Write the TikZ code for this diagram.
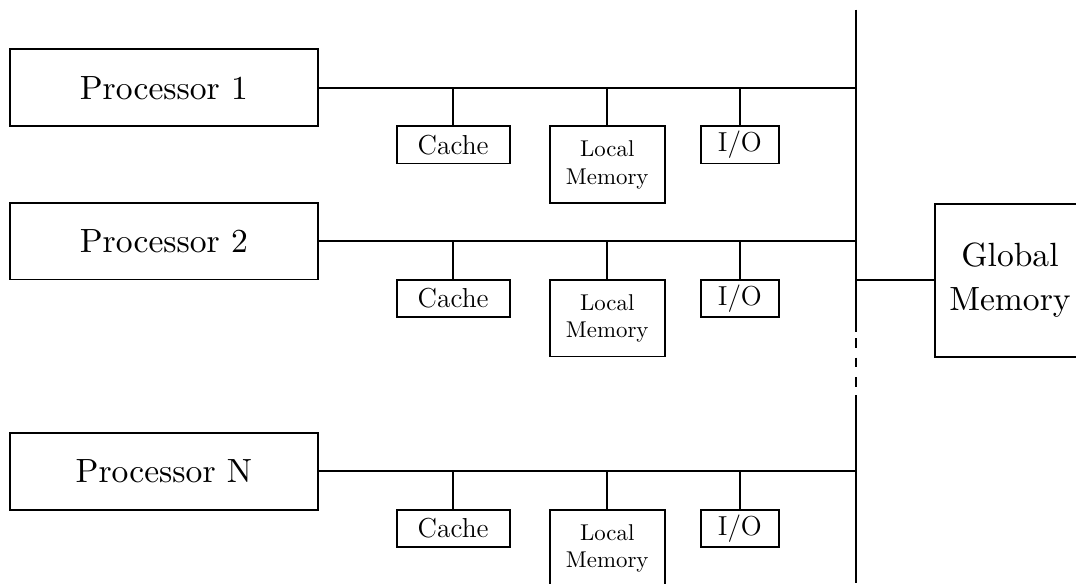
\documentclass[tikz,border=0pt]{standalone}
\usepackage{tikz}
\usetikzlibrary{positioning}

\font\bigrm="[lmroman10-regular]" at 14.7pt

\tikzset{
  bigtext/.style={font={\fontsize{14.7}{19}\selectfont\bigrm}},
  procbox/.style={draw, minimum width=4.74cm, minimum height=1.18cm, bigtext},
  unitbox/.style={draw, minimum height=0.57cm, inner ysep=1pt, anchor=north, font=\large},
  lmembox/.style={draw, minimum width=1.77cm, minimum height=1.18cm, anchor=north, align=center},
}

\begin{document}
\begin{tikzpicture}[line width=0.8pt]
  \useasboundingbox (0,0) rectangle (16.55,8.97);

  % shared bus
  \coordinate (bustop) at (13.17,8.82);
  \coordinate (gapa) at (13.17,3.86);
  \coordinate (dasha) at (13.17,3.77);
  \coordinate (dashb) at (13.17,3.02);
  \coordinate (gapb) at (13.17,2.89);
  \coordinate (busbot) at (13.17,0);
  \draw (bustop) -- (gapa);
  \draw [dash pattern=on 0.15cm off 0.15cm] (dasha) -- (dashb);
  \draw (gapb) -- (busbot);

  % one row per processor
  \foreach \n/\y/\lab in {1/7.62/1, 2/5.26/2, n/1.72/N}{
    \node [procbox] (proc\n) at (2.52,\y) {Processor \lab};
    \coordinate (bus\n) at (13.17,\y);
    \draw (proc\n.east) -- (bus\n);

    \node [unitbox, minimum width=1.74cm] (cache\n) at (6.97,\y-0.58) {Cache};
    \node [lmembox] (lmem\n) at (9.34,\y-0.58) {Local\\Memory};
    \node [unitbox, minimum width=1.2cm] (io\n) at (11.38,\y-0.58) {I/O};

    \draw (cache\n.north) -- (cache\n.north |- bus\n);
    \draw (lmem\n.north) -- (lmem\n.north |- bus\n);
    \draw (io\n.north) -- (io\n.north |- bus\n);
  }

  % global memory off the bus
  \node [draw, bigtext, align=center, minimum width=2.3cm, minimum height=2.35cm, anchor=west] (gmem) at (14.37,4.66) {Global\\Memory};
  \coordinate (busg) at (13.17,4.66);
  \draw (busg) -- (gmem);
\end{tikzpicture}
\end{document}
